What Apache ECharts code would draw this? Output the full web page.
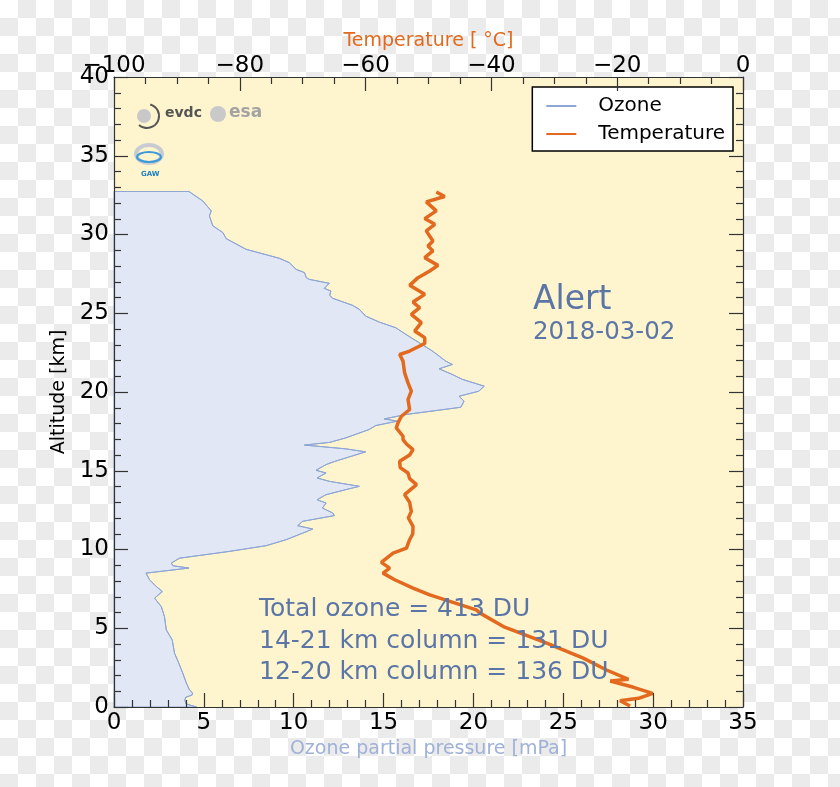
<!DOCTYPE html>
<html>
<head>
<meta charset="utf-8">
<script src="https://cdn.jsdelivr.net/npm/echarts@6/dist/echarts.min.js"></script>
<style>
html,body{margin:0;padding:0;}
body{width:840px;height:787px;background:repeating-conic-gradient(#ebebeb 0 25%, #ffffff 0 50%) 0 0 / 36px 36px;}
#chart{width:840px;height:787px;}
</style>
</head>
<body>
<div id="chart"></div>
<script>
// Ozone partial pressure profile [mPa] vs altitude [km]
const ozoneAlt = [0.0,0.2,0.45,0.62,0.76,0.9,1.08,1.6,2.14,2.8,3.41,4.26,4.9,5.74,6.38,6.91,7.33,7.65,8.08,8.5,8.82,8.97,9.14,9.45,9.88,10.24,10.62,11.15,11.3,11.51,11.79,12.15,12.32,12.63,12.95,13.16,13.48,13.8,14.01,14.33,14.54,14.86,15.03,15.39,15.6,15.81,16.13,16.2,16.39,16.63,16.8,17.09,17.62,17.87,18.15,18.29,18.57,19.03,19.42,19.73,20.05,20.37,20.8,21.11,21.47,21.75,21.96,22.6,23.13,23.66,24.08,24.44,24.82,25.25,25.5,25.95,26.14,26.41,26.58,26.9,27.15,27.26,27.58,27.79,28.21,28.49,28.89,29.06,29.74,30.12,30.55,31.18,31.5,32.13,32.73];
const ozoneVal = [4.6,4.0,3.94,4.0,4.35,4.37,4.2,4.0,3.83,3.6,3.37,3.24,2.91,2.81,2.63,2.26,2.69,2.35,1.98,1.78,4.17,3.28,3.19,3.65,6.43,8.46,9.57,10.75,11.06,10.22,10.5,12.26,12.17,11.6,11.8,11.3,11.8,12.9,13.65,11.98,11.3,11.8,11.24,11.8,12.3,12.9,13.8,14.0,12.9,10.6,12.0,12.91,14.2,14.57,15.78,15.04,16.24,19.3,19.48,19.2,20.3,20.6,19.39,18.83,18.09,18.83,18.46,17.72,16.98,16.24,15.68,14.76,14.0,13.65,13.28,12.17,12.0,12.07,11.7,11.98,10.87,10.7,10.6,10.13,9.76,9.2,7.9,7.35,6.24,6.06,5.5,5.31,5.41,4.94,4.17];
// Temperature profile [°C] vs altitude [km]
const tempAlt = [0.06,0.4,0.55,0.87,1.25,1.65,1.76,2.35,3.1,4.05,5.11,5.96,6.17,7.12,7.55,8.08,8.5,8.82,9.18,9.5,9.77,10.09,10.62,11.0,11.47,12.0,12.42,13.0,13.48,14.12,14.5,14.86,15.2,15.6,16.0,16.34,16.7,16.98,17.19,17.72,18.04,18.46,18.89,19.52,20.05,20.58,21.22,21.96,22.38,22.6,23.08,23.45,23.87,24.4,24.93,25.35,25.71,26.2,26.77,27.26,27.68,28.04,28.53,28.96,29.27,29.59,30.23,30.65,31.01,31.5,32.07,32.41,32.7];
const tempVal = [-17.96,-19.55,-16.6,-14.36,-17.4,-21.1,-18.2,-21.7,-25.4,-31.2,-38.1,-41.8,-42.4,-49.8,-52.46,-55.37,-57.23,-56.17,-57.5,-56.5,-55.64,-53.5,-53.0,-52.5,-52.46,-53.2,-52.73,-53.0,-53.8,-51.9,-53.0,-53.26,-54.5,-54.58,-53.0,-52.46,-53.5,-54.05,-54.05,-55.12,-54.85,-54.3,-53.0,-53.26,-52.73,-53.26,-53.8,-54.05,-54.58,-52.99,-50.6,-50.6,-52.2,-51.14,-52.73,-51.4,-52.46,-50.6,-52.99,-51.67,-49.8,-48.5,-50.6,-49.3,-50.08,-49.3,-50.35,-49.0,-50.6,-48.76,-50.35,-47.43,-48.76];
const stationName = 'Alert';
const launchDate = '2018-03-02';
const statLines = ['Total ozone = 413 DU','14-21 km column = 131 DU','12-20 km column = 136 DU'];

const FONT = 'DejaVu Sans';
const ozonePts = ozoneAlt.map((a,i)=>[ozoneVal[i], a]);
const tempPts = tempAlt.map((a,i)=>[tempVal[i], a]);
const axisCol = '#333';
const minus = v => String(v).replace('-', '\u2212');

function baseAxis(extra){
  return Object.assign({
    type:'value',
    axisLine:{show:true,onZero:false,lineStyle:{color:axisCol,width:1.2}},
    axisTick:{show:true,inside:true,length:14,lineStyle:{color:axisCol,width:1.2}},
    splitLine:{show:false},
    minorSplitLine:{show:false},
    z:10
  }, extra);
}
const minorT = n => ({show:true,splitNumber:n,length:7,lineStyle:{color:axisCol,width:1.2}});
const lbl = m => ({color:'#000',fontFamily:FONT,fontSize:23,margin:m,formatter:minus});

const chart = echarts.init(document.getElementById('chart'), null, {renderer:'canvas'});
chart.setOption({
  backgroundColor:'transparent',
  animation:false,
  grid:{left:114,right:97,top:77,bottom:80,show:true,backgroundColor:'#fef5cf',borderWidth:0},
  legend:{
    orient:'vertical', right:107, top:87,
    data:[{name:'Ozone'},{name:'Temperature'}],
    itemStyle:{opacity:0},
    backgroundColor:'#fff', borderColor:'#000', borderWidth:1.5, borderRadius:0,
    padding:[9,8,7,13], itemWidth:30, itemHeight:20, itemGap:8,
    textStyle:{fontFamily:FONT,fontSize:20,color:'#000',padding:[0,0,0,17]}
  },
  xAxis:[
    baseAxis({position:'bottom',min:0,max:35,interval:5,minorTick:minorT(5),axisLabel:lbl(5),
      name:'Ozone partial pressure [mPa]',nameLocation:'middle',nameGap:29,
      nameTextStyle:{color:'#9fb1d7',fontFamily:FONT,fontSize:19}}),
    baseAxis({position:'top',min:-100,max:0,interval:20,minorTick:minorT(4),axisLabel:lbl(-1),
      name:'Temperature [ \u00b0C]',nameLocation:'middle',nameGap:25,
      nameTextStyle:{color:'#e2691d',fontFamily:FONT,fontSize:19}})
  ],
  yAxis:[
    baseAxis({position:'left',min:0,max:40,interval:5,minorTick:minorT(5),axisLabel:lbl(5),
      name:'Altitude [km]',nameLocation:'middle',nameGap:26,nameRotate:90,
      nameTextStyle:{color:'#000',fontFamily:FONT,fontSize:19}}),
    baseAxis({position:'right',min:0,max:40,interval:5,minorTick:minorT(5),axisLabel:{show:false}})
  ],
  series:[
    {
      type:'custom', name:'ozoneFill', xAxisIndex:0, yAxisIndex:0, silent:true, z:1,
      data:[[0,0]],
      renderItem:function(params, api){
        if(params.dataIndex!==0) return;
        const pts=[api.coord([0, ozoneAlt[0]])];
        for(let i=0;i<ozoneAlt.length;i++) pts.push(api.coord([ozoneVal[i], ozoneAlt[i]]));
        pts.push(api.coord([0, ozoneAlt[ozoneAlt.length-1]]));
        return {type:'polygon',shape:{points:pts},style:{fill:'#e1e7f4',stroke:'#8ea6d4',lineWidth:1}};
      }
    },
    {
      type:'line', name:'Ozone', xAxisIndex:0, yAxisIndex:0, data:ozonePts, showSymbol:false, symbol:'none',
      lineStyle:{color:'#8ea6d4',width:1}, itemStyle:{color:'#9fb1d7'}, z:2
    },
    {
      type:'line', name:'Temperature', xAxisIndex:1, yAxisIndex:0, data:tempPts, showSymbol:false, symbol:'none',
      lineStyle:{color:'#e2691d',width:3.5}, itemStyle:{color:'#e2691d'}, z:3
    }
  ],
  graphic:[
    {type:'text',left:533,top:284,z:20,style:{text:stationName,font:'33px "DejaVu Sans"',fill:'#5a75a6'}},
    {type:'text',left:533,top:320,z:20,style:{text:launchDate,font:'24.5px "DejaVu Sans"',fill:'#5a75a6'}},
    {type:'text',left:259,top:597,z:20,style:{text:statLines[0],font:'25px "DejaVu Sans"',fill:'#5a75a6'}},
    {type:'text',left:259,top:629,z:20,style:{text:statLines[1],font:'25px "DejaVu Sans"',fill:'#5a75a6'}},
    {type:'text',left:259,top:660,z:20,style:{text:statLines[2],font:'25px "DejaVu Sans"',fill:'#5a75a6'}},
    // logos
    {type:'arc',z:20,shape:{cx:147,cy:116,r:12,startAngle:-1.3,endAngle:2.3},style:{stroke:'#555',lineWidth:2,fill:null}},
    {type:'circle',z:20,shape:{cx:144,cy:116,r:7},style:{fill:'#c8c8c8'}},
    {type:'text',left:165,top:106,z:20,style:{text:'evdc',font:'bold 14px "DejaVu Sans"',fill:'#555'}},
    {type:'circle',z:20,shape:{cx:218,cy:114,r:8},style:{fill:'#c9c9c9'}},
    {type:'text',left:229,top:104,z:20,style:{text:'esa',font:'bold 17px "DejaVu Sans"',fill:'#a3a3a3'}},
    {type:'ellipse',z:20,shape:{cx:149,cy:154,rx:13,ry:9},style:{fill:null,stroke:'#c8ccd2',lineWidth:4}},
    {type:'ellipse',z:21,shape:{cx:149,cy:157,rx:12,ry:5},style:{fill:null,stroke:'#3a9ad8',lineWidth:2}},
    {type:'text',left:141,top:171,z:20,style:{text:'GAW',font:'bold 7px "DejaVu Sans"',fill:'#2080c0'}}
  ]
});
</script>
</body>
</html>
